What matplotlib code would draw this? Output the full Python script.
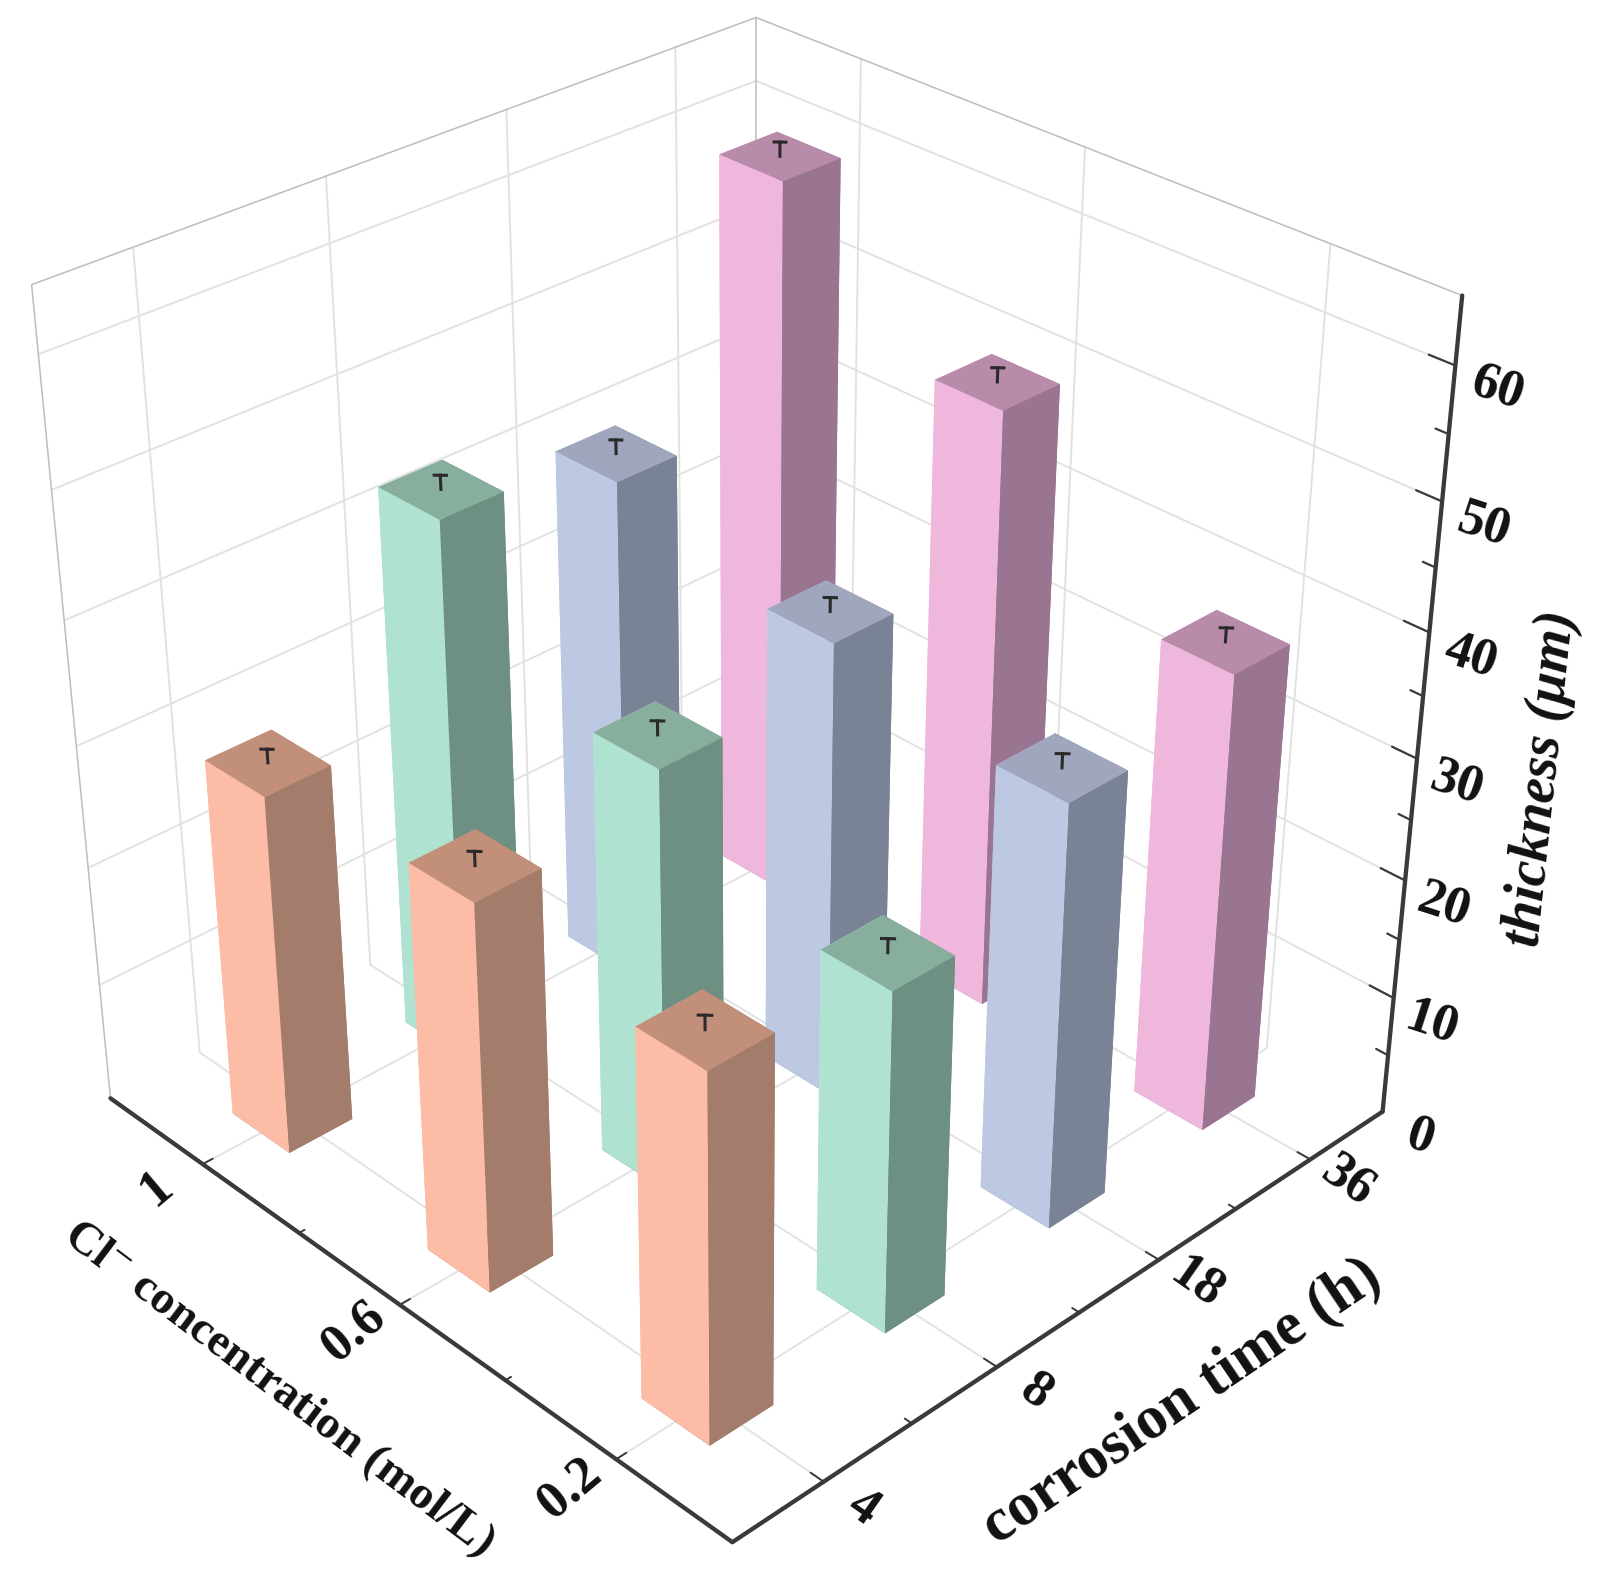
import numpy as np
import matplotlib
matplotlib.use('Agg')
import matplotlib.pyplot as plt
from mpl_toolkits.mplot3d import proj3d

plt.rcParams['font.family'] = ['Liberation Serif', 'DejaVu Serif']
plt.rcParams['mathtext.fontset'] = 'stix'

time_labels = ['4', '8', '18', '36']
cl_labels = ['0.2', '0.6', '1']
z_ticks = [0, 10, 20, 30, 40, 50, 60]

# thickness per Cl concentration (0.2, 0.6, 1), one list for each time
thick_4h = [30, 31.9, 30]
thick_8h = [28, 34.9, 45.1]
thick_18h = [35, 37.9, 41.9]
thick_36h = [38, 49.8, 59.9]
thick = [thick_4h, thick_8h, thick_18h, thick_36h]
err = 1.1

side_light = ['#FDBCA5', '#B0E2D1', '#BDC9E3', '#F0B7DD']
side_dark = ['#A37C6B', '#6E9082', '#7A8296', '#9A7592']
top_col = ['#C28F7A', '#88AE9E', '#9FA6BD', '#B98BAA']

zmax = 65
xmax, ymax = 4, 3
bw_x, bw_y = 0.355, 0.30

fig = plt.figure(figsize=(15.98, 15.70), dpi=100)
ax = fig.add_axes([-0.047, 0.027, 1, 1], projection='3d')
ax.computed_zorder = False
ax.set_proj_type('persp', focal_length=0.5)
ax.view_init(elev=31.5, azim=-134)
ax.set_xlim(0, xmax); ax.set_ylim(0, ymax); ax.set_zlim(0, zmax)
ax.set_box_aspect((1, 1, 1.0), zoom=1.02)
ax.set_axis_off()

grid = '#e2e2e2'
frame = '#bdbdbd'
dark = '#3a3a3a'

def seg(p, q, c=grid, lw=1.4, z=1):
    ax.plot([p[0], q[0]], [p[1], q[1]], [p[2], q[2]], color=c, lw=lw, zorder=z,
            solid_capstyle='round', clip_on=False)

def label(x, y, z, s, **kw):
    # Text3D ignores rotation, so place 2D text at the projected point
    x2, y2, _ = proj3d.proj_transform(x, y, z, ax.get_proj())
    ax.text2D(x2, y2, s, transform=ax.transData, ha='center', va='center',
              fontweight='bold', color='#111111', zorder=70, **kw)

# floor and wall grid
for i in range(len(time_labels)):
    seg((i+.5, 0, 0), (i+.5, ymax, 0))
    seg((i+.5, ymax, 0), (i+.5, ymax, zmax))
for j in range(len(cl_labels)):
    seg((0, j+.5, 0), (xmax, j+.5, 0))
    seg((xmax, j+.5, 0), (xmax, j+.5, zmax))
for zt in z_ticks[1:]:
    seg((0, ymax, zt), (xmax, ymax, zt))
    seg((xmax, ymax, zt), (xmax, 0, zt))

# thin frame of the walls
seg((0, ymax, 0), (0, ymax, zmax), frame, 1.1)
seg((0, ymax, zmax), (xmax, ymax, zmax), frame, 1.1)
seg((xmax, ymax, zmax), (xmax, 0, zmax), frame, 1.1)
seg((xmax, ymax, 0), (xmax, ymax, zmax), frame, 1.1)

# bars, far ones first
cells = [(i, j) for i in range(4) for j in range(3)]
cells.sort(key=lambda c: -(c[0] + c[1]))
for n, (i, j) in enumerate(cells):
    h = thick[i][j]
    # face order in bar3d: -z, +z, -y, +y, -x, +x
    cols = [side_dark[i], top_col[i], side_dark[i], side_light[i], side_light[i], side_dark[i]]
    ax.bar3d(i+.5-bw_x/2, j+.5-bw_y/2, 0, bw_x, bw_y, h, color=cols, shade=False,
             zorder=10+2*n, linewidth=0)
    cx, cy = i+.5, j+.5
    ax.plot([cx, cx], [cy, cy], [h, h+err], color='#2a2a2a', lw=2.2, zorder=11+2*n)
    ax.plot([cx-.018, cx+.018], [cy+.014, cy-.014], [h+err, h+err], color='#2a2a2a', lw=2.2, zorder=11+2*n)

# dark axes
seg((0, ymax, 0), (0, 0, 0), dark, 3.1, 60)
seg((0, 0, 0), (xmax, 0, 0), dark, 3.1, 60)
seg((xmax, 0, 0), (xmax, 0, zmax), dark, 3.1, 60)

# ticks
for i in range(len(time_labels)):
    seg((i+.5, 0, 0), (i+.5, .055, 0), dark, 1.4, 60)
    if i < 3:
        seg((i+1, 0, 0), (i+1, .03, 0), dark, 1.4, 60)
    label(i+.5, -.16, 0, time_labels[i], rotation=-35, fontsize=38)
for j in range(len(cl_labels)):
    seg((0, j+.5, 0), (.055, j+.5, 0), dark, 1.4, 60)
    if j < 2:
        seg((0, j+1, 0), (.03, j+1, 0), dark, 1.4, 60)
    label(-.25, j+.5, 0, cl_labels[j], rotation=40, fontsize=38)
for zt in z_ticks:
    if zt > 0:
        seg((xmax, 0, zt), (xmax, .1, zt), dark, 1.6, 60)
    if zt < 60:
        seg((xmax, 0, zt+5), (xmax, .05, zt+5), dark, 1.6, 60)
    label(xmax, -.16, zt-.4, str(zt), rotation=-18, fontsize=38)

label(1.88, -.5, 0, 'corrosion time (h)', rotation=34, fontsize=44)
label(-.7, 1.45, 0, 'Cl$^{-}$ concentration (mol/L)', rotation=-37, fontsize=34)
label(xmax, -.47, 33, 'thickness (\u03bcm)', rotation=84, fontsize=40, fontstyle='italic')

fig.savefig('out.png', dpi=100)
